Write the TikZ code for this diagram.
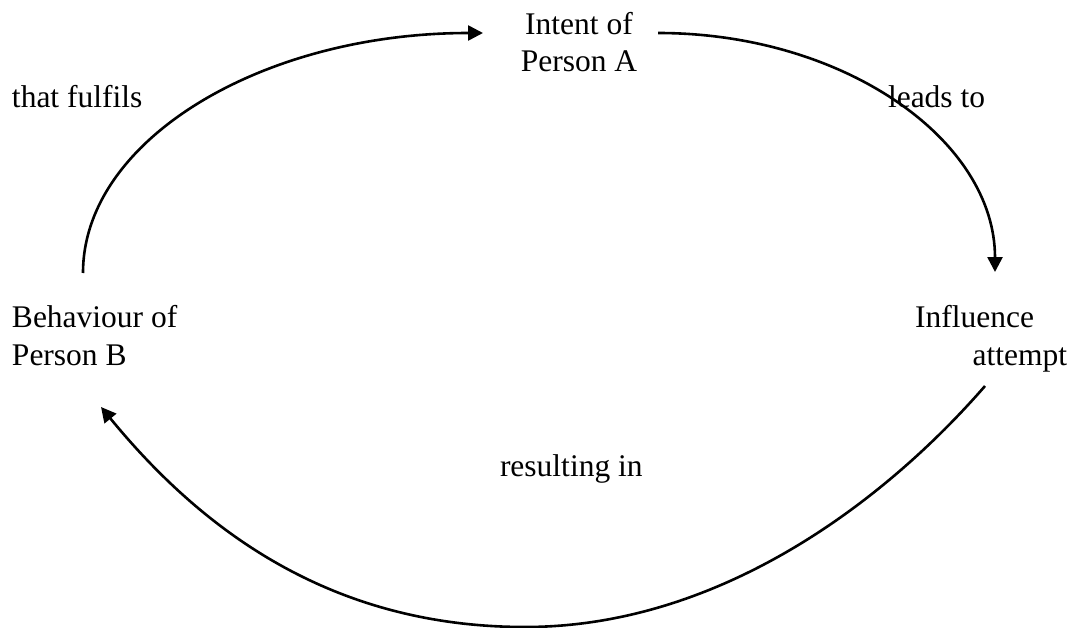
\documentclass[tikz,border=0pt]{standalone}
\usepackage{fontspec}
\setmainfont{Liberation Serif}
\usetikzlibrary{arrows.meta}
\begin{document}
\begin{tikzpicture}[x=1pt,y=-1pt,
  lbl/.style={inner sep=0pt,outer sep=0pt,font=\fontsize{31.5}{37.5}\selectfont},
  conn/.style={line width=2.6pt},
  tip/.style={-{Triangle[length=15pt,width=15pt]}}]
\useasboundingbox (0,0) rectangle (1075,628);
% labels (base anchor = baseline of the last line)
\node[lbl,align=center,anchor=base] (intent) at (579,72) {Intent of\\Person A};
\node[lbl,anchor=base west] (fulfils) at (12,108) {that fulfils};
\node[lbl,anchor=base west] (leads) at (888,108) {leads to};
\node[lbl,align=left,anchor=base west] (behav) at (12,365) {Behaviour of\\Person B};
\node[lbl,align=right,anchor=base east] (influ) at (1067,365) {Influence\hspace*{33pt}\\attempt};
\node[lbl,anchor=base west] (result) at (500,476) {resulting in};
% connector end points
\coordinate (bStart) at (83,273);
\coordinate (iIn) at (483,33);
\coordinate (iOut) at (658,33);
\coordinate (fIn) at (995,272);
\coordinate (fOut) at (985,386);
\coordinate (bot) at (525,627);
\coordinate (bIn) at (101,407);
% connectors
\draw[conn,tip] (bStart) .. controls (83,140) and (262,33) .. (iIn);
\draw[conn,tip] (iOut) .. controls (844,33) and (995,140) .. (fIn);
\draw[conn,tip] (fOut) .. controls (885,501) and (720,627) .. (bot)
  .. controls (330,627) and (201,529) .. (bIn);
\end{tikzpicture}
\end{document}
